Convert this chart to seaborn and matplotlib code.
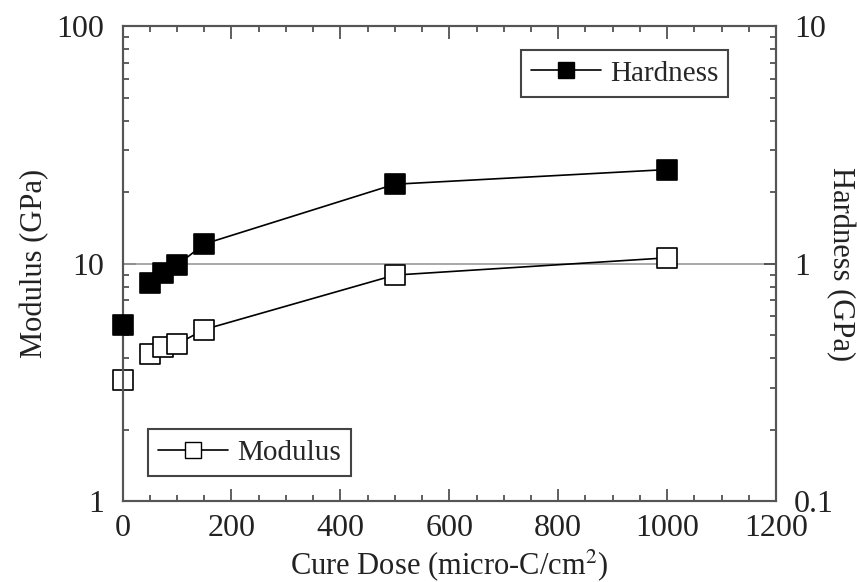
import matplotlib
matplotlib.use("Agg")
import matplotlib.pyplot as plt
from matplotlib.lines import Line2D
from matplotlib.ticker import LogLocator, FixedLocator, MultipleLocator, NullFormatter, FuncFormatter
import seaborn as sns
import pandas as pd

# ---- data ----
dose = [0, 50, 75, 100, 150, 500, 1000]
modulus = [3.25, 4.15, 4.47, 4.58, 5.28, 8.95, 10.58]      # GPa, left axis
hardness = [0.55, 0.825, 0.91, 0.985, 1.21, 2.16, 2.49]   # GPa, right axis
x_ticks = [0, 200, 400, 600, 800, 1000, 1200]
left_ticks = [1, 10, 100]
right_ticks = [0.1, 1, 10]

sns.set_theme(style="ticks")
plt.rcParams['font.family'] = ['Liberation Serif', 'DejaVu Serif']
plt.rcParams['mathtext.fontset'] = 'stix'

df = pd.DataFrame({"dose": dose, "modulus": modulus, "hardness": hardness})
df_line = df[df["dose"] > 0]

fig = plt.figure(figsize=(8.57, 5.82), dpi=100)
ax = fig.add_axes([0.143, 0.139, 0.9055 - 0.143, 0.955 - 0.139])
ax2 = ax.twinx()

ms = 14
# modulus (open squares)
sns.lineplot(data=df_line, x="dose", y="modulus", ax=ax, color="black", lw=1.2,
             marker=None, zorder=3)
sns.scatterplot(data=df, x="dose", y="modulus", ax=ax, marker="s", s=ms**2,
                facecolor="white", edgecolor="black", linewidth=1.2, zorder=4, clip_on=False)
# hardness (filled squares)
sns.lineplot(data=df_line, x="dose", y="hardness", ax=ax2, color="black", lw=1.2,
             marker=None, zorder=3)
sns.scatterplot(data=df, x="dose", y="hardness", ax=ax2, marker="s", s=ms**2,
                facecolor="black", edgecolor="black", linewidth=1.2, zorder=4, clip_on=False)

ax.axhline(10, color="#9a9a9a", lw=1.2, zorder=1)

ax.set_yscale("log")
ax2.set_yscale("log")
ax.set_xlim(0, 1200)
ax.set_ylim(1, 100)
ax2.set_ylim(0.1, 10)

fmt = FuncFormatter(lambda v, p: f"{v:g}")
ax.yaxis.set_major_locator(FixedLocator(left_ticks))
ax.yaxis.set_minor_locator(LogLocator(base=10, subs=range(2, 10)))
ax.yaxis.set_major_formatter(fmt)
ax.yaxis.set_minor_formatter(NullFormatter())
ax2.yaxis.set_major_locator(FixedLocator(right_ticks))
ax2.yaxis.set_minor_locator(LogLocator(base=10, subs=range(2, 10)))
ax2.yaxis.set_major_formatter(fmt)
ax2.yaxis.set_minor_formatter(NullFormatter())
ax.xaxis.set_major_locator(FixedLocator(x_ticks))
ax.xaxis.set_minor_locator(MultipleLocator(50))

tick_fs = 23
for a in (ax, ax2):
    a.tick_params(which="major", direction="in", length=9, width=1.2, color="#444444",
                  labelsize=tick_fs, labelcolor="#222222", pad=13)
    a.tick_params(which="minor", direction="in", length=4.5, width=1.2, color="#444444")
    for s in a.spines.values():
        s.set_color("#555555")
        s.set_linewidth(1.5)
ax.tick_params(axis="x", which="both", top=True, pad=9)
ax.tick_params(axis="y", which="both", right=False)
ax2.tick_params(axis="y", which="both", left=False, right=True)

ax.set_xlabel("Cure Dose (micro-C/cm$^{2}$)", fontsize=22, color="#222222", va="center")
ax.xaxis.set_label_coords(0.5, -0.135)
ax.set_ylabel("Modulus (GPa)", fontsize=22, color="#222222", va="center", ha="center")
ax.yaxis.set_label_coords(-0.135, 0.5)
ax2.set_ylabel("Hardness (GPa)", fontsize=22, color="#222222", rotation=270,
               va="center", ha="center")
ax2.yaxis.set_label_coords(1.098, 0.5)

h_hard = Line2D([], [], color="black", lw=1.2, marker="s", markersize=12,
                markerfacecolor="black", markeredgecolor="black")
h_mod = Line2D([], [], color="black", lw=1.2, marker="s", markersize=12,
               markerfacecolor="white", markeredgecolor="black")
leg_kw = dict(fontsize=21, frameon=True, fancybox=False, edgecolor="#444444",
              framealpha=1, handlelength=2.4, borderpad=0.35, handletextpad=0.3,
              borderaxespad=0)
leg1 = ax2.legend([h_hard], ["Hardness"], loc="upper right",
                  bbox_to_anchor=(0.927, 0.95), **leg_kw)
leg1.get_frame().set_linewidth(1.5)
leg2 = ax.legend([h_mod], ["Modulus"], loc="lower left",
                 bbox_to_anchor=(0.039, 0.053), **leg_kw)
leg2.get_frame().set_linewidth(1.5)

fig.savefig("out.png", dpi=100)
